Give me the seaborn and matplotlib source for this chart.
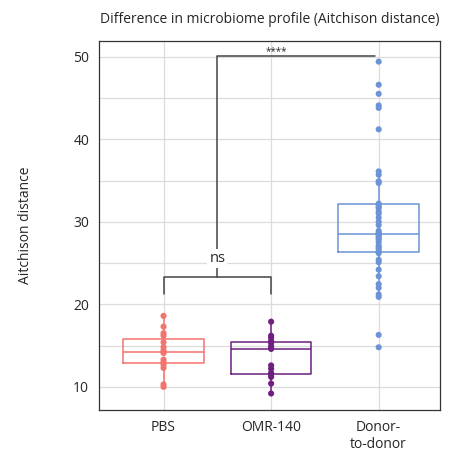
import pandas as pd
import matplotlib
matplotlib.use("Agg")
import matplotlib.pyplot as plt
import seaborn as sns

# values
groups = ["PBS", "OMR-140", "Donor-\nto-donor"]
pbs = [10.0, 10.3, 12.3, 12.7, 13.0, 13.3, 14.1, 14.25, 14.4, 14.8,
       15.4, 16.2, 16.5, 17.3, 18.6]
omr = [9.2, 10.4, 11.2, 11.5, 11.7, 12.2, 12.6, 14.6, 14.7, 14.9,
       15.3, 15.6, 16.0, 16.2, 17.9]
donor = [14.8, 16.3, 20.9, 21.2, 22.0, 22.45, 23.4, 24.2, 25.1, 25.4,
         26.2, 26.4, 26.7, 26.9, 27.1, 27.5, 27.8, 28.0, 28.2, 28.4,
         28.5, 28.55, 28.7, 28.9, 29.6, 30.0, 30.5, 31.0, 31.24, 31.65,
         31.8, 32.05, 32.2, 34.7, 34.9, 35.7, 36.1, 41.2, 43.8, 44.1,
         45.5, 46.6, 49.4]
colors = ["#F4736C", "#6E1F80", "#6B93D6"]

df = pd.DataFrame({
    "group": [groups[0]] * len(pbs) + [groups[1]] * len(omr) + [groups[2]] * len(donor),
    "dist": pbs + omr + donor,
})

sns.set_style("white")
plt.rcParams['font.family'] = ['Open Sans', 'DejaVu Sans']

fig = plt.figure(figsize=(4.51, 4.55), dpi=100)
ax = fig.add_axes([0.2195, 0.0989, 0.7561, 0.811])

sns.boxplot(data=df, x="group", y="dist", hue="group", palette=colors,
            order=groups, fill=False, width=0.75, showfliers=False,
            showcaps=False, linewidth=1.1, whis=1.5, legend=False, ax=ax)
# the boxes are paler than the whiskers and medians
for p in ax.patches:
    p.set_alpha(0.65)
sns.stripplot(data=df, x="group", y="dist", hue="group", palette=colors,
              order=groups, jitter=False, size=4.4, legend=False, ax=ax)

ax.set_xlim(-0.6, 2.57)
ax.set_ylim(7.2, 51.9)
ax.set_yticks([10, 20, 30, 40, 50])
ax.set_yticks([15, 25, 35, 45], minor=True)
ax.grid(True, which="both", color="#dcdcdc", linewidth=0.9)
ax.set_axisbelow(True)
ax.tick_params(axis="both", which="major", direction="out", length=4,
               width=0.9, color="#444444", labelsize=10, pad=3)
ax.tick_params(axis="y", which="minor", length=0)
for s in ax.spines.values():
    s.set_color("#333333")
    s.set_linewidth(0.9)

ax.set_xlabel("")
ax.set_ylabel("Aitchison distance", fontsize=10, labelpad=29)
ax.set_title("Difference in microbiome profile (Aitchison distance)",
             fontsize=10, pad=13)

# significance brackets
bc = "#444444"
ax.plot([0, 0, 1, 1], [21.3, 23.3, 23.3, 21.3], color=bc, lw=1.1)
ax.plot([0.5, 0.5, 1.97], [23.3, 50.1, 50.1], color=bc, lw=1.1)
ax.text(0.5, 25.5, "ns", ha="center", va="center", fontsize=10.5,
        bbox=dict(facecolor="white", edgecolor="none", pad=1.5))
ax.text(1.05, 50.6, "****", ha="center", va="center", fontsize=7)

fig.savefig("out.png", dpi=100)
